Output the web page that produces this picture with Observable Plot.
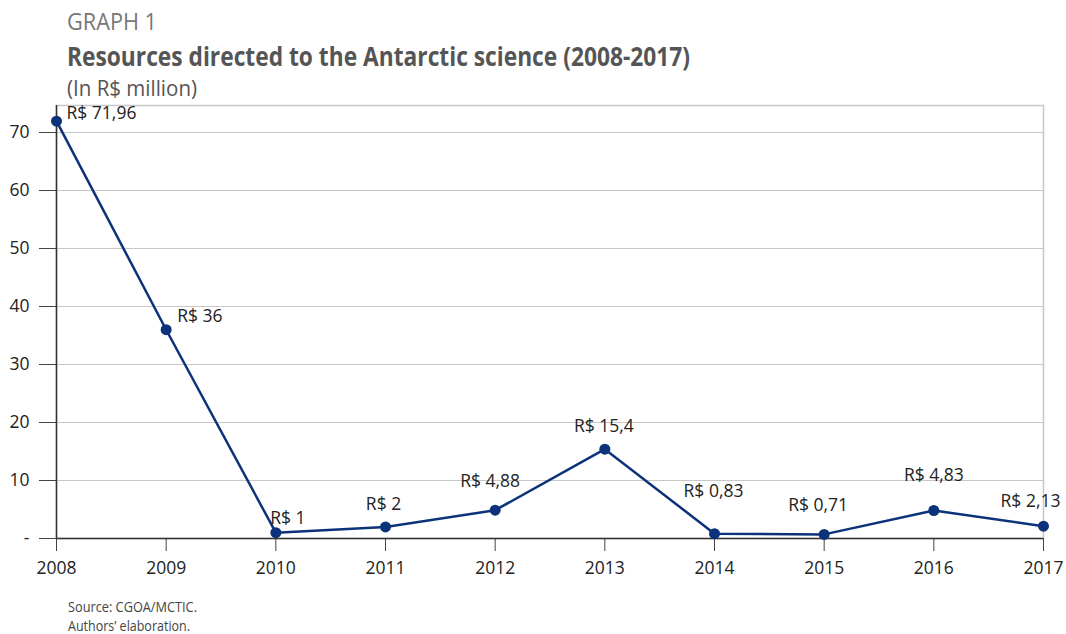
<!DOCTYPE html>
<html>
<head>
<meta charset="utf-8">
<script src="https://cdn.jsdelivr.net/npm/d3@7"></script>
<script src="https://cdn.jsdelivr.net/npm/@observablehq/plot@0.6"></script>
<style>
  body { margin: 0; background: #fff; }
  #wrap { position: relative; width: 1066px; height: 634px; overflow: hidden; background: #fff; }
  .cond { font-family: "Open Sans", "Noto Sans", sans-serif; position: absolute; white-space: nowrap; transform-origin: 0 0; display: inline-block; line-height: 1; z-index: 2; }
  #kicker { left: 67px; top: 10px; font-size: 23px; color: #777; }
  #title { left: 67px; top: 42px; font-size: 27.5px; font-weight: bold; color: #555; }
  #subtitle { left: 67px; top: 78px; font-size: 21px; color: #555; }
  #chart { position: absolute; left: 0; top: 90px; z-index: 1; }
  #chart svg { background: transparent !important; }
  #source1 { left: 68px; top: 599px; font-size: 15px; color: #444; }
  #source2 { left: 68px; top: 618px; font-size: 15px; color: #444; }
</style>
</head>
<body>
<div id="wrap">
  <div id="kicker" class="cond" data-w="90">GRAPH 1</div>
  <div id="title" class="cond" data-w="623">Resources directed to the Antarctic science (2008-2017)</div>
  <div id="subtitle" class="cond" data-w="130">(In R$ million)</div>
  <div id="chart"></div>
  <div id="source1" class="cond" data-w="129">Source: CGOA/MCTIC.</div>
  <div id="source2" class="cond" data-w="122">Authors’ elaboration.</div>
</div>
<script>
const years = [2008, 2009, 2010, 2011, 2012, 2013, 2014, 2015, 2016, 2017];
const values = [71.96, 36, 1, 2, 4.88, 15.4, 0.83, 0.71, 4.83, 2.13];
const labels = ["R$ 71,96", "R$ 36", "R$ 1", "R$ 2", "R$ 4,88", "R$ 15,4", "R$ 0,83", "R$ 0,71", "R$ 4,83", "R$ 2,13"];
const yTicks = [0, 10, 20, 30, 40, 50, 60, 70];

// label placement (layout only)
const labelDx = [10, 11, 12, -2, -5, -1, -1, -6, 0, -13];
const labelDy = [-8, -13, -14, -23, -29, -23, -42, -29, -35, -25];
const labelAnchor = ["start", "start", "middle", "middle", "middle", "middle", "middle", "middle", "middle", "middle"];

const data = years.map((y, i) => ({year: y, value: values[i], label: labels[i], i}));

const labelMarks = data.map(d => Plot.text([d], {
  x: "year", y: "value", text: "label",
  dx: labelDx[d.i], dy: labelDy[d.i], textAnchor: labelAnchor[d.i],
  fontSize: 17.5, fill: "#222"
}));

const yMax = 74.66;
const chart = Plot.plot({
  width: 1066,
  height: 510,
  marginLeft: 56,
  marginRight: 23,
  marginTop: 15,
  marginBottom: 62,
  style: { fontFamily: "'Open Sans', 'Noto Sans', sans-serif", fontSize: "17px", color: "#222", background: "transparent" },
  x: { domain: [2008, 2017], label: null },
  y: { domain: [0, yMax], label: null },
  marks: [
    Plot.gridY(yTicks.filter(t => t > 0), { stroke: "#c8c8c8", strokeOpacity: 1, strokeWidth: 1 }),
    Plot.frame({ stroke: "#c8c8c8", strokeWidth: 1.5 }),
    Plot.axisY({ ticks: yTicks, tickFormat: d => d === 0 ? "-" : String(d), tickSize: 17, tickPadding: 10, stroke: "#444", fontSize: 17.5, label: null }),
    Plot.axisX({ ticks: years, tickFormat: d => String(d), tickSize: 13, tickPadding: 10, stroke: "#444", fontSize: 17.5, label: null }),
    Plot.ruleY([0], { stroke: "#333", strokeWidth: 1.5 }),
    Plot.ruleX([2008], { y1: 0, y2: yMax, stroke: "#333", strokeWidth: 1.5 }),
    Plot.line(data, { x: "year", y: "value", stroke: "#0c337a", strokeWidth: 2.5 }),
    Plot.dot(data, { x: "year", y: "value", r: 5.5, fill: "#0c337a", stroke: "none" }),
    ...labelMarks
  ]
});
document.getElementById("chart").appendChild(chart);

// fit header/footer texts to the reference widths (condensed look)
document.querySelectorAll(".cond").forEach(el => {
  const w = el.getBoundingClientRect().width;
  const target = +el.dataset.w;
  if (w > 0 && target) el.style.transform = `scaleX(${target / w})`;
});
</script>
</body>
</html>
